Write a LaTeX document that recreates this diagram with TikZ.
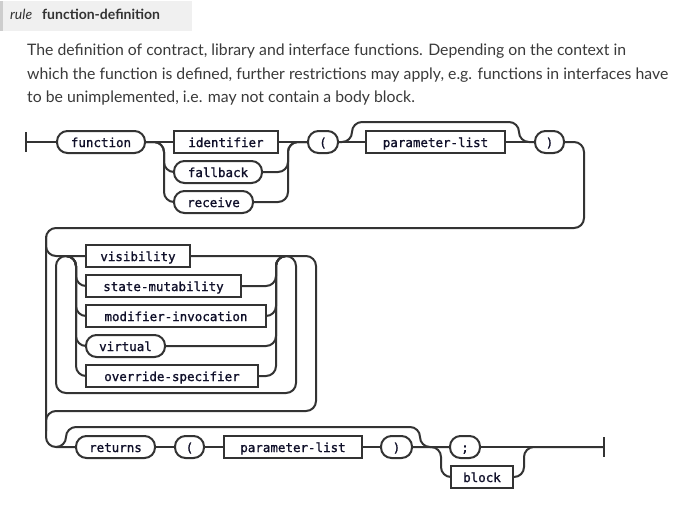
\documentclass[tikz,border=0pt]{standalone}
\usepackage{fontspec}
\setmainfont{Lato}
\newfontfamily\railfont[FakeBold=1.2]{DejaVu Sans Mono}
\usepackage{tikz}
\usepackage{xcolor}

\definecolor{railgray}{HTML}{333333}
\definecolor{headbg}{HTML}{F0F0F0}
\definecolor{headbar}{HTML}{CDCDCD}
\definecolor{desctext}{HTML}{3A3A3A}
\definecolor{tokentext}{HTML}{10102A}

\tikzset{
  rail/.style={draw=railgray, line width=2pt, rounded corners=10pt},
  token/.style={draw=railgray, line width=2pt, minimum height=22pt, inner sep=0pt,
    text height=10pt, text depth=0pt, text=tokentext,
    font=\railfont\fontsize{12.5}{14}\selectfont},
  nonterm/.style={token},
  term/.style={token, rounded corners=10.5pt},
  desc/.style={anchor=base west, inner sep=0pt, text=desctext,
    font=\fontsize{15.8}{18}\selectfont},
}

\begin{document}
\begin{tikzpicture}[x=1pt, y=-1pt]
\useasboundingbox[fill=white] (0,0) rectangle (684,507);

\fill[headbg] (0,1) rectangle (192,31);
\fill[headbar] (0,1) rectangle (3,31);
\node[anchor=base west, inner sep=0pt, text=railgray, font=\itshape\fontsize{14}{16}\selectfont] (ruletag) at (10,19.5) {rule};
\node[anchor=base west, inner sep=0pt, text=railgray, font=\bfseries\fontsize{14}{16}\selectfont] (rulename) at (42,19.5) {function-definition};

\node[desc] (descA) at (27,55) {The definition of contract, library and interface functions. Depending on the context in};
\node[desc] (descB) at (27,79) {which the function is defined, further restrictions may apply, e.g. functions in interfaces have};
\node[desc] (descC) at (27,102) {to be unimplemented, i.e. may not contain a body block.};

\coordinate (start) at (26,142);
\coordinate (finish) at (604,447);

\node[term, minimum width=88pt] (kwfunction) at (101,142) {function};
\node[nonterm, minimum width=104pt] (identifier) at (226,142) {identifier};
\node[term, minimum width=88pt] (kwfallback) at (218,172) {fallback};
\node[term, minimum width=79pt] (kwreceive) at (213.5,202) {receive};
\node[term, minimum width=30pt] (lparenA) at (323,142) {(};
\node[nonterm, minimum width=139pt] (paramsA) at (435.5,142) {parameter-list};
\node[term, minimum width=29pt] (rparenA) at (549.5,142) {)};

\node[nonterm, minimum width=104pt] (visibility) at (138,256) {visibility};
\node[nonterm, minimum width=155pt] (statemut) at (163.5,286) {state-mutability};
\node[nonterm, minimum width=180pt] (modinv) at (176,316) {modifier-invocation};
\node[term, minimum width=79pt] (kwvirtual) at (125.5,346) {virtual};
\node[nonterm, minimum width=172pt] (override) at (172,376) {override-specifier};

\node[term, minimum width=79pt] (kwreturns) at (115.5,447) {returns};
\node[term, minimum width=29pt] (lparenB) at (189.5,447) {(};
\node[nonterm, minimum width=138pt] (paramsB) at (293,447) {parameter-list};
\node[term, minimum width=31pt] (rparenB) at (396.5,447) {)};
\node[term, minimum width=30pt] (kwsemi) at (465,447) {;};
\node[nonterm, minimum width=62pt] (block) at (482,477) {block};

\draw[rail] ([yshift=10pt]start) -- ([yshift=-10pt]start);
\draw[rail] (start) -- (kwfunction.west);
\draw[rail] (kwfunction.east) -- (identifier.west);
\draw[rail] (kwfunction.east) -| (164,172) -- (kwfallback.west);
\draw[rail] (kwfunction.east) -| (164,202) -- (kwreceive.west);
\draw[rail] (identifier.east) -- (lparenA.west);
\draw[rail] (kwfallback.east) -| (288,142) -- (lparenA.west);
\draw[rail] (kwreceive.east) -| (288,142) -- (lparenA.west);
\draw[rail] (lparenA.east) -- (paramsA.west);
\draw[rail] (lparenA.east) -| (352,122) -| (519,142) -- (rparenA.west);
\draw[rail] (paramsA.east) -- (rparenA.west);
\draw[rail] (rparenA.east) -| (584,228) -| (46,447) -- (kwreturns.west);

\draw[rail] (46,236) |- (visibility.west);
\foreach \item/\yy in {statemut/286, modinv/316, kwvirtual/346, override/376} {
  \draw[rail] (66,256) -| (76,\yy) -- (\item.west);
  \draw[rail] (\item.east) -| (276,256) -- (286,256);
}
\draw[rail] (286,256) -| (296,393) -| (56,256) -- (66,256);
\draw[rail] (visibility.east) -| (316,411) -| (46,431);

\draw[rail] (kwreturns.east) -- (lparenB.west);
\draw[rail] (lparenB.east) -- (paramsB.west);
\draw[rail] (paramsB.east) -- (rparenB.west);
\draw[rail] (56,447) -| (66,427) -| (420,447) -- (kwsemi.west);
\draw[rail] (rparenB.east) -- (kwsemi.west);
\draw[rail] (rparenB.east) -| (441,477) -- (block.west);
\draw[rail] (block.east) -| (524,447) -- (finish);
\draw[rail] (kwsemi.east) -- (finish);
\draw[rail] ([yshift=10pt]finish) -- ([yshift=-10pt]finish);
\end{tikzpicture}
\end{document}
